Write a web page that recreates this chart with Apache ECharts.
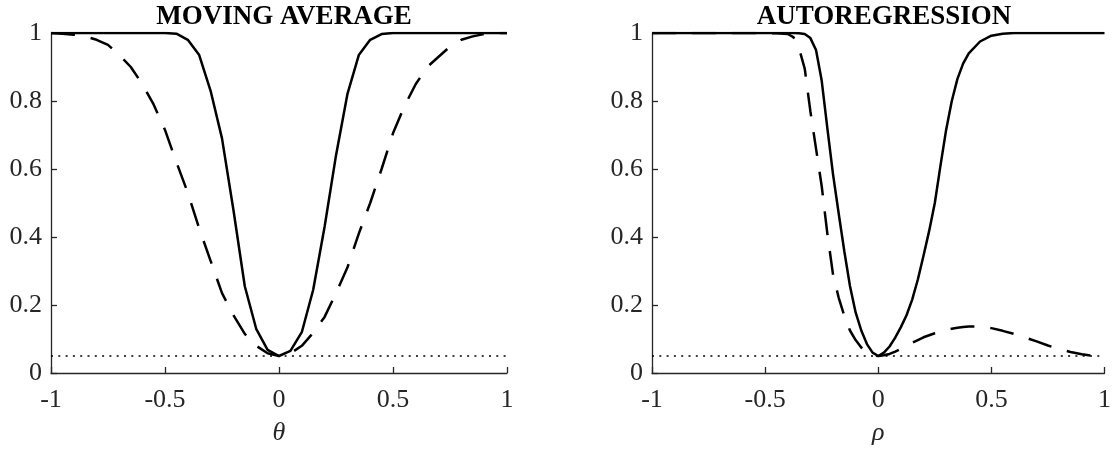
<!DOCTYPE html>
<html>
<head>
<meta charset="UTF-8">
<title>MA / AR</title>
<script src="https://cdn.jsdelivr.net/npm/echarts@6/dist/echarts.min.js"></script>
<style>
  html, body { margin: 0; padding: 0; background: #fff; }
  #main { width: 1114px; height: 456px; }
</style>
</head>
<body>
<div id="main"></div>
<script>
// moving average panel (theta grid, step 0.05)
var maX = [-1, -0.95, -0.9, -0.85, -0.8, -0.75, -0.7, -0.65, -0.6, -0.55, -0.5, -0.45, -0.4, -0.35, -0.3, -0.25, -0.2, -0.15, -0.1, -0.05,
  0, 0.05, 0.1, 0.15, 0.2, 0.25, 0.3, 0.35, 0.4, 0.45, 0.5, 0.55, 0.6, 0.65, 0.7, 0.75, 0.8, 0.85, 0.9, 0.95, 1];
var maSolid = [1, 1, 1, 1, 1, 1, 1, 1, 1, 1, 1, 0.998, 0.98, 0.935, 0.83, 0.69, 0.48, 0.255, 0.13, 0.068,
  0.05, 0.065, 0.12, 0.245, 0.43, 0.64, 0.82, 0.935, 0.98, 0.997, 1, 1, 1, 1, 1, 1, 1, 1, 1, 1, 1];
var maDashed = [1, 0.998, 0.995, 0.99, 0.98, 0.965, 0.935, 0.9, 0.85, 0.79, 0.715, 0.62, 0.53, 0.425, 0.33, 0.235, 0.17, 0.115, 0.08, 0.058,
  0.05, 0.058, 0.08, 0.118, 0.165, 0.235, 0.31, 0.41, 0.5, 0.6, 0.705, 0.785, 0.85, 0.9, 0.93, 0.96, 0.98, 0.99, 0.997, 1, 1];

// autoregression panel (rho grid)
var arX = [-1, -0.9, -0.8, -0.7, -0.6, -0.5, -0.45, -0.4, -0.375, -0.35, -0.325, -0.3, -0.275, -0.25, -0.225, -0.2, -0.175, -0.15, -0.125, -0.1, -0.075, -0.05, -0.025,
  0, 0.025, 0.05, 0.075, 0.1, 0.125, 0.15, 0.175, 0.2, 0.225, 0.25, 0.275, 0.3, 0.325, 0.35, 0.375, 0.4, 0.45, 0.5, 0.55, 0.6, 0.65, 0.7, 0.75, 0.8, 0.85, 0.9, 0.95, 1];
var arSolid = [1, 1, 1, 1, 1, 1, 1, 1, 1, 0.999, 0.997, 0.985, 0.95, 0.86, 0.72, 0.585, 0.47, 0.358, 0.256, 0.178, 0.125, 0.085, 0.06,
  0.05, 0.06, 0.078, 0.104, 0.135, 0.17, 0.216, 0.275, 0.345, 0.418, 0.5, 0.61, 0.715, 0.8, 0.865, 0.91, 0.94, 0.975, 0.992, 0.998, 1, 1, 1, 1, 1, 1, 1, 1, 1];
var arDashed = [1, 1, 1, 1, 1, 1, 0.999, 0.997, 0.988, 0.955, 0.895, 0.77, 0.66, 0.55, 0.41, 0.29, 0.222, 0.168, 0.125, 0.097, 0.075, 0.06, 0.052,
  0.05, 0.052, 0.056, 0.063, 0.071, 0.08, 0.089, 0.097, 0.105, 0.111, 0.117, 0.122, 0.126, 0.13, 0.133, 0.135, 0.137, 0.137, 0.132, 0.124, 0.115, 0.104, 0.093, 0.081, 0.07, 0.062, 0.055, 0.05, 0.048];

var refLevel = 0.05;
var titles = ['MOVING AVERAGE', 'AUTOREGRESSION'];
var axisNames = ['θ', 'ρ'];

function pairs(xs, ys) {
  return xs.map(function (x, i) { return [x, ys[i]]; });
}

var serif = 'Liberation Serif';
var axisColor = '#262626';

function xAxis(i) {
  return {
    type: 'value', gridIndex: i, min: -1, max: 1, interval: 0.5,
    name: axisNames[i], nameLocation: 'middle', nameGap: 47,
    nameTextStyle: { fontFamily: serif, fontStyle: 'italic', fontSize: 26, color: axisColor },
    axisLine: { onZero: false, lineStyle: { color: axisColor, width: 1.3 } },
    axisTick: { inside: true, length: 6, lineStyle: { color: axisColor, width: 1.3 } },
    axisLabel: { fontFamily: serif, fontSize: 26, color: axisColor, margin: 14 },
    splitLine: { show: false }
  };
}
function yAxis(i) {
  return {
    type: 'value', gridIndex: i, min: 0, max: 1, interval: 0.2,
    axisLine: { show: true, onZero: false, lineStyle: { color: axisColor, width: 1.3 } },
    axisTick: { show: true, inside: true, length: 6, lineStyle: { color: axisColor, width: 1.3 } },
    axisLabel: { fontFamily: serif, fontSize: 26, color: axisColor, margin: 9 },
    splitLine: { show: false }
  };
}
function line(i, data, type, width) {
  return {
    type: 'line', xAxisIndex: i, yAxisIndex: i, data: data,
    showSymbol: false, animation: false, silent: true,
    lineStyle: { color: '#000', width: width, type: type }
  };
}

var chart = echarts.init(document.getElementById('main'), null, { renderer: 'canvas' });
chart.setOption({
  backgroundColor: '#fff',
  animation: false,
  title: [
    { text: titles[0], left: 279, top: -1, textAlign: 'center',
      textStyle: { fontFamily: serif, fontWeight: 'bold', fontSize: 27, lineHeight: 27, color: '#000' } },
    { text: titles[1], left: 879, top: -1, textAlign: 'center',
      textStyle: { fontFamily: serif, fontWeight: 'bold', fontSize: 27, lineHeight: 27, color: '#000' } }
  ],
  grid: [
    { left: 51, top: 33, width: 456, height: 340 },
    { left: 652, top: 33, width: 454, height: 340 }
  ],
  xAxis: [xAxis(0), xAxis(1)],
  yAxis: [yAxis(0), yAxis(1)],
  series: [
    line(0, [[-1, refLevel], [1, refLevel]], [2, 5.3], 1.5),
    line(0, pairs(maX, maDashed), [24, 16], 2.5),
    line(0, pairs(maX, maSolid), 'solid', 2.5),
    line(1, [[-1, refLevel], [1, refLevel]], [2, 5.3], 1.5),
    line(1, pairs(arX, arDashed), [24, 16], 2.5),
    line(1, pairs(arX, arSolid), 'solid', 2.5)
  ]
});
</script>
</body>
</html>
